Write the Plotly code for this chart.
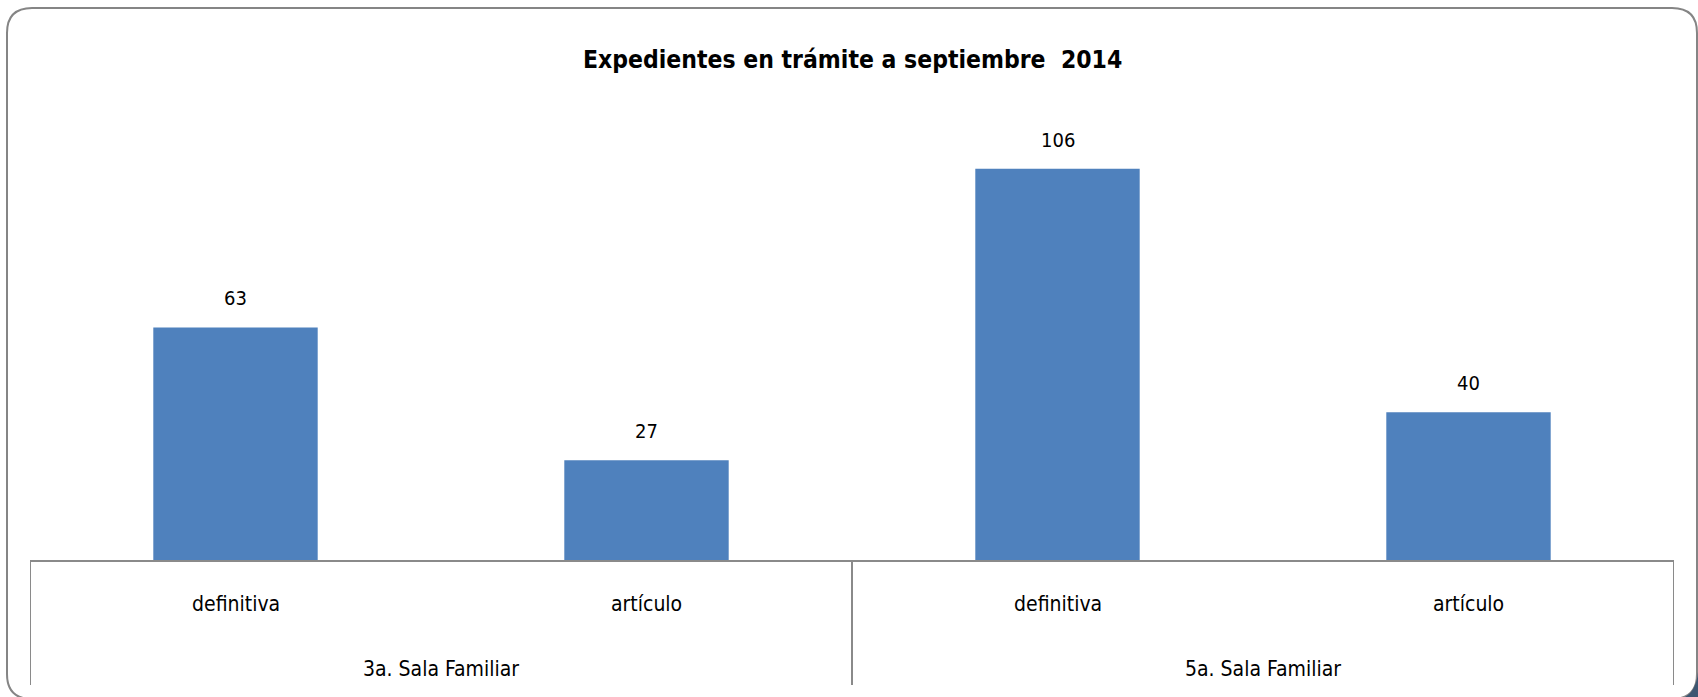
import plotly.graph_objects as go

# Data
groups = ["3a. Sala Familiar", "5a. Sala Familiar"]
subcats = ["definitiva", "artículo", "definitiva", "artículo"]
group_of = [0, 0, 1, 1]
values = [63, 27, 106, 40]
title_text = "Expedientes en trámite a septiembre  2014"

W, H = 1698, 697
ML, MR, MT, MB = 30, 24, 117, 137
PW = W - ML - MR
PH = H - MT - MB
FONT = "DejaVu Sans Condensed, DejaVu Sans, sans-serif"
BAR = "#4F81BD"
GRID = "#8a8a8a"

def px(x):
    return (x - ML) / PW

def py(y):
    return (H - MB - y) / PH

xs = list(range(len(values)))

fig = go.Figure()
fig.add_trace(go.Bar(x=xs, y=values, width=0.4, marker=dict(color=BAR, line=dict(width=0)),
                     hoverinfo="skip", showlegend=False))

ann = []
# data labels
for i, v in zip(xs, values):
    ann.append(dict(x=i, y=v, xref="x", yref="y", text=str(v), showarrow=False,
                    yanchor="middle", yshift=29, font=dict(family=FONT, size=20, color="#000")))
# sub-category labels
for i, s in zip(xs, subcats):
    ann.append(dict(x=i, y=py(604), xref="x", yref="paper", text=s, showarrow=False,
                    yanchor="middle", font=dict(family=FONT, size=21, color="#000")))
# group labels
for g, name in enumerate(groups):
    members = [i for i in xs if group_of[i] == g]
    cx = sum(members) / len(members)
    ann.append(dict(x=cx, y=py(669), xref="x", yref="paper", text=name, showarrow=False,
                    yanchor="middle", font=dict(family=FONT, size=21, color="#000")))
# title
ann.append(dict(x=0.5, y=py(60), xref="paper", yref="paper", text="<b>" + title_text + "</b>",
                showarrow=False, xanchor="center", yanchor="middle",
                font=dict(family=FONT, size=24.5, color="#000")))

shapes = []
# vertical dividers
div_positions = [-0.5, 1.5, 3.5]
for d in div_positions:
    shapes.append(dict(type="line", xref="x", yref="paper", x0=d, x1=d, y0=0, y1=py(685),
                       line=dict(color=GRID, width=2)))

# outer rounded border
L, R, T, B, r = 7, 1697, 8, 699, 25
path = (f"M {px(L)},{py(T + r)} Q {px(L)},{py(T)} {px(L + r)},{py(T)} "
        f"L {px(R - r)},{py(T)} Q {px(R)},{py(T)} {px(R)},{py(T + r)} "
        f"L {px(R)},{py(B - r)} Q {px(R)},{py(B)} {px(R - r)},{py(B)} "
        f"L {px(L + r)},{py(B)} Q {px(L)},{py(B)} {px(L)},{py(B - r)} Z")
shapes.append(dict(type="path", xref="paper", yref="paper", path=path,
                   line=dict(color="#858585", width=2), fillcolor="rgba(0,0,0,0)", layer="below"))
# dark corner shadow at bottom-right
cpath = (f"M {px(1698)},{py(672)} Q {px(1696)},{py(691)} {px(1685)},{py(697)} "
         f"L {px(1698)},{py(697)} Z")
shapes.append(dict(type="path", xref="paper", yref="paper", path=cpath,
                   line=dict(width=0), fillcolor="#3d5671"))

fig.update_layout(
    width=W, height=H,
    margin=dict(l=ML, r=MR, t=MT, b=MB),
    paper_bgcolor="white", plot_bgcolor="white",
    bargap=0.6,
    xaxis=dict(range=[-0.5, 3.5], showticklabels=False, showgrid=False, zeroline=False,
               showline=True, linecolor=GRID, linewidth=2, ticks=""),
    yaxis=dict(range=[0, 120], visible=False, showgrid=False, zeroline=False),
    annotations=ann,
    shapes=shapes,
    showlegend=False,
)

fig.write_html("out.html", config={"displayModeBar": False},
               post_script="document.body.style.margin='0';document.body.style.overflow='hidden';")
